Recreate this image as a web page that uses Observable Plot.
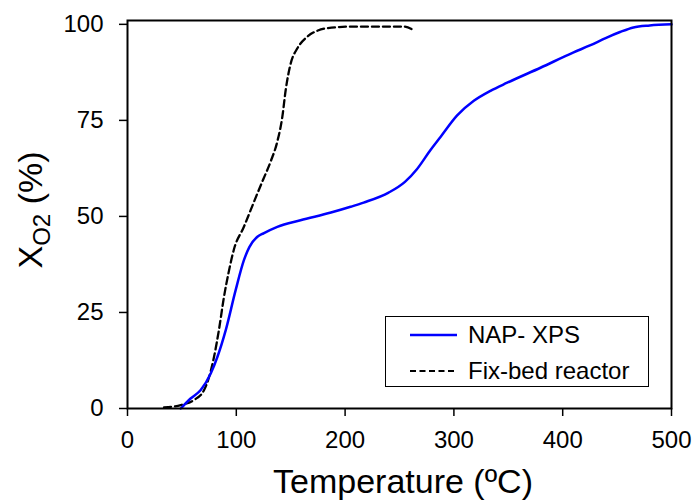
<!DOCTYPE html>
<html>
<head>
<meta charset="utf-8">
<script src="https://cdn.jsdelivr.net/npm/d3@7"></script>
<script src="https://cdn.jsdelivr.net/npm/@observablehq/plot@0.6"></script>
<style>
  html, body { margin: 0; padding: 0; background: #fff; }
  #wrap { position: relative; width: 696px; height: 501px; font-family: "Liberation Sans", Arial, sans-serif; }
  #legend { position: absolute; left: 385px; top: 316px; width: 262px; height: 69px; border: 1.5px solid #000; background: #fff; }
  .row { position: absolute; left: 0; height: 30px; display: flex; align-items: center; font-size: 24px; color: #000; }
  .row svg { margin-left: 24px; margin-right: 11px; }
</style>
</head>
<body>
<div id="wrap"></div>
<script>
// Series names
const seriesNames = ["NAP- XPS", "Fix-bed reactor"];

// NAP-XPS: temperature (ºC) and O2 conversion (%)
const napT = [49, 58, 67.3, 76.5, 82.6, 90.3, 99.4, 107, 112, 119.4, 125, 137.7, 159, 187, 205, 217, 240, 255, 266, 278.5, 287.7, 303, 318.3, 333.6, 349, 379.6, 410, 425, 440, 452.7, 465, 480, 500];
const napX = [0, 2.6, 4.8, 9.1, 13.4, 20.4, 30.8, 38.6, 42, 44.7, 45.6, 47.3, 49, 51, 52.5, 53.6, 56.2, 59, 62.3, 67.3, 70.7, 76.3, 80.1, 82.7, 84.8, 88.7, 92.7, 94.5, 96.5, 98.0, 99.2, 99.7, 100];

// Fix-bed reactor: temperature (ºC) and O2 conversion (%)
const fixT = [33.6, 49, 61, 70.4, 75, 79.5, 84, 88.7, 93, 97.9, 107, 113, 119.4, 125, 131.6, 137.7, 142.3, 145.4, 150, 156, 165.3, 175, 183.7, 205, 230, 254, 263];
const fixX = [0.3, 0.9, 2.2, 4.8, 8.2, 13.4, 20.4, 29.1, 35.5, 41.5, 47.3, 51.5, 56, 59.8, 64.3, 69.5, 75.9, 82.9, 89.8, 93.7, 96.8, 98.4, 99, 99.4, 99.4, 99.4, 98.5];

// Tick labels
const xTicks = [0, 100, 200, 300, 400, 500];
const yTicks = [0, 25, 50, 75, 100];

const xLabel = "Temperature (ºC)";
const yLabelMain = "X";
const yLabelSub = "O2";
const yLabelRest = " (%)";

const nap = napT.map((t, i) => ({T: t, X: napX[i]}));
const fix = fixT.map((t, i) => ({T: t, X: fixX[i]}));

const chart = Plot.plot({
  width: 696,
  height: 501,
  marginLeft: 127,
  marginRight: 25,
  marginTop: 20,
  marginBottom: 93,
  style: {fontFamily: "'Liberation Sans', Arial, sans-serif", fontSize: "24px", color: "#000", background: "#fff"},
  x: {domain: [0, 500]},
  y: {domain: [0, 101]},
  marks: [
    Plot.line(fix, {x: "T", y: "X", stroke: "#000", strokeWidth: 2.3, strokeDasharray: "7,4", curve: "monotone-x"}),
    Plot.line(nap, {x: "T", y: "X", stroke: "#0000ff", strokeWidth: 2.5, curve: "monotone-x"}),
    Plot.axisX({ticks: xTicks, tickSize: 8, tickPadding: 14, tickFormat: d => String(d), label: null, strokeWidth: 1.5}),
    Plot.axisY({ticks: yTicks, tickSize: 8, tickPadding: 16, tickFormat: d => String(d), label: null, strokeWidth: 1.5}),
    Plot.frame({stroke: "#000", strokeWidth: 2})
  ]
});

const wrap = document.getElementById("wrap");
wrap.appendChild(chart);

const svg = d3.select(chart);
// X axis title
svg.append("text")
  .attr("x", 403).attr("y", 493)
  .attr("text-anchor", "middle")
  .attr("font-size", 34)
  .attr("fill", "#000")
  .text(xLabel);

// Y axis title with subscript
const yt = svg.append("text")
  .attr("transform", "translate(42,210) rotate(-90)")
  .attr("text-anchor", "middle")
  .attr("font-size", 34)
  .attr("fill", "#000");
yt.append("tspan").text(yLabelMain);
yt.append("tspan").attr("font-size", 24).attr("dy", 8).text(yLabelSub);
yt.append("tspan").attr("dy", -8).text(yLabelRest);

// Legend
const legend = document.createElement("div");
legend.id = "legend";
const styles = [
  {stroke: "#0000ff", width: 2.5, dash: null},
  {stroke: "#000", width: 2, dash: "6,3.5"}
];
seriesNames.forEach((name, i) => {
  const row = document.createElement("div");
  row.className = "row";
  row.style.top = (i === 0 ? 3 : 39) + "px";
  const s = styles[i];
  row.innerHTML = `<svg width="47" height="10"><line x1="0" x2="47" y1="5" y2="5" stroke="${s.stroke}" stroke-width="${s.width}" ${s.dash ? `stroke-dasharray="${s.dash}"` : ""}/></svg><span>${name}</span>`;
  legend.appendChild(row);
});
wrap.appendChild(legend);
</script>
</body>
</html>
